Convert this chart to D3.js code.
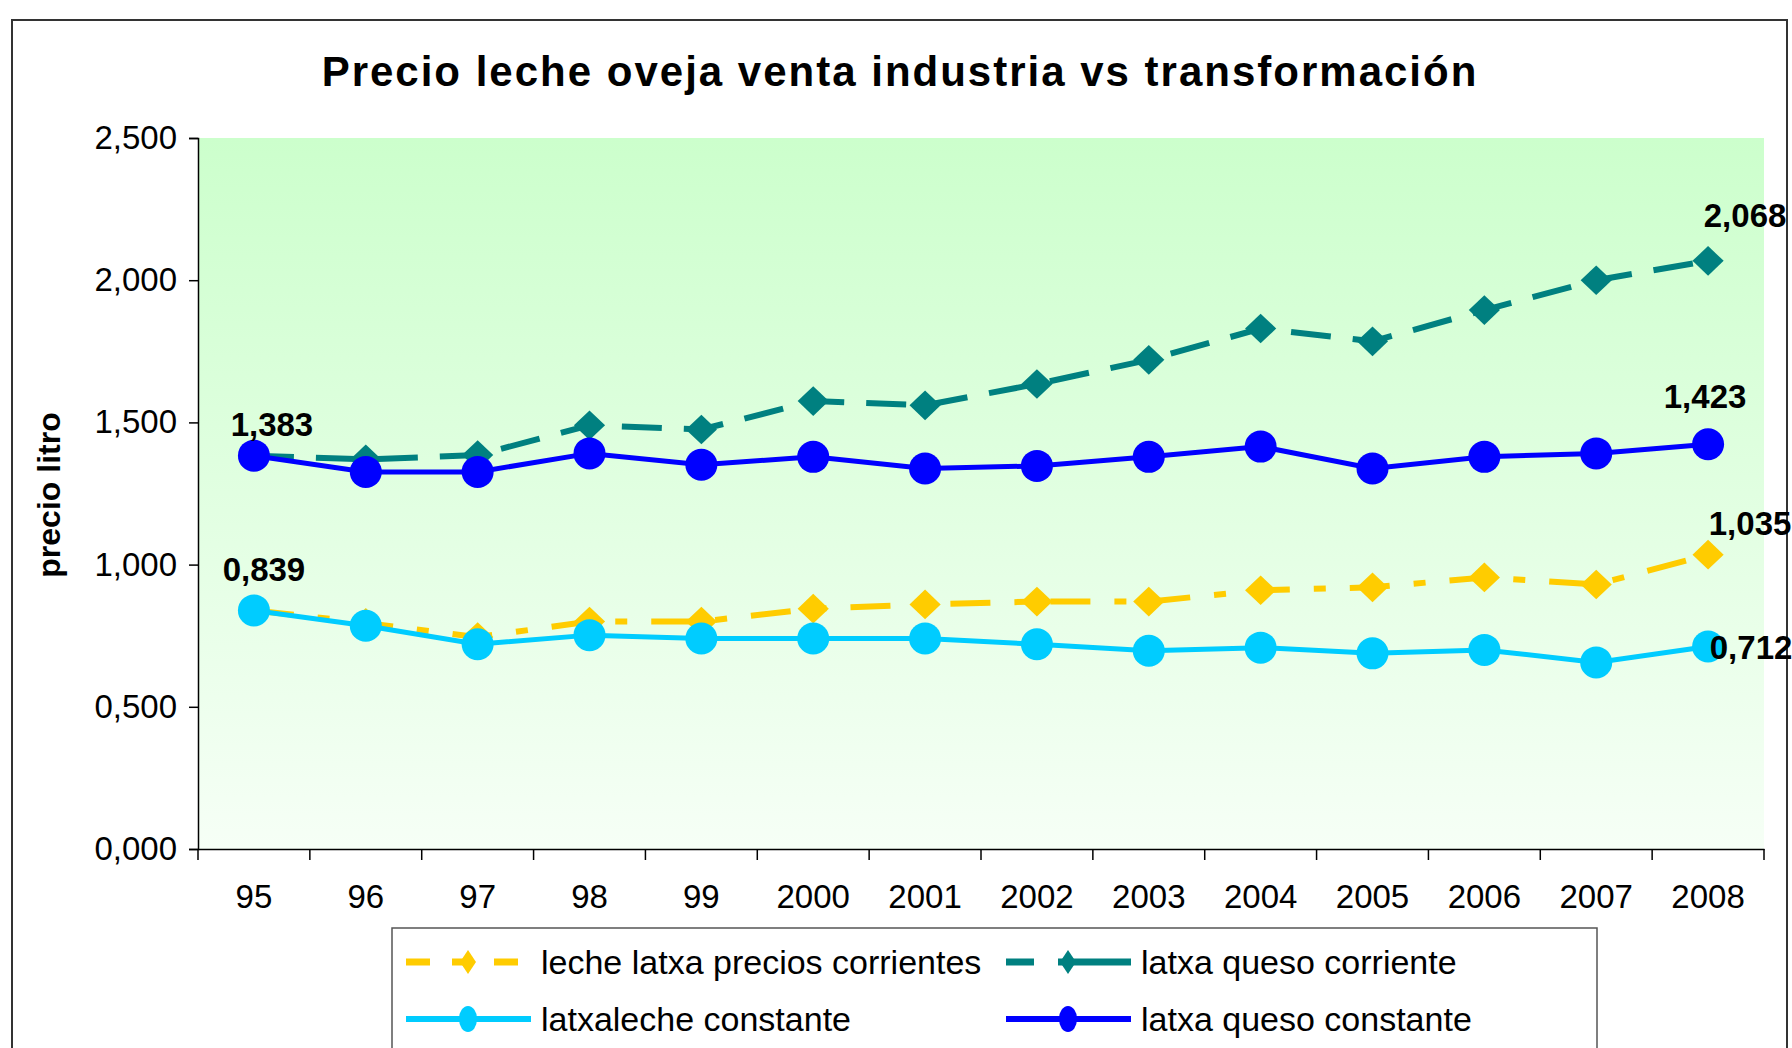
<!DOCTYPE html>
<html><head><meta charset="utf-8">
<script src="https://cdn.jsdelivr.net/npm/d3@7"></script>
<style>body{margin:0;background:#fff}svg{display:block;font-family:"Liberation Sans",Arial,sans-serif}</style>
</head><body><svg id="c" width="1792" height="1048"></svg>
<script>
const categories = ["95","96","97","98","99","2000","2001","2002","2003","2004","2005","2006","2007","2008"];
const lecheCorrientes = [0.839,0.795,0.745,0.800,0.800,0.845,0.860,0.870,0.870,0.910,0.920,0.955,0.930,1.035];
const quesoCorriente = [1.383,1.370,1.385,1.490,1.475,1.575,1.560,1.635,1.720,1.830,1.785,1.895,2.000,2.068];
const lecheConstante = [0.839,0.785,0.720,0.752,0.740,0.740,0.740,0.720,0.697,0.708,0.688,0.700,0.656,0.712];
const quesoConstante = [1.383,1.326,1.326,1.391,1.351,1.379,1.338,1.347,1.379,1.415,1.338,1.379,1.391,1.423];
const yTicks = [0,0.5,1,1.5,2,2.5];
const seriesNames = ["leche latxa precios corrientes","latxa queso corriente","latxaleche constante","latxa queso constante"];

const svg = d3.select("#c");
const L=198, R=1764, T=138, B=849;
const x = d3.scaleBand().domain(categories).range([L,R]);
const y = d3.scaleLinear().domain([0,2.5]).range([B,T]);
const fmt = v => d3.format(".3f")(v).replace(".",",");

svg.append("rect").attr("x",12).attr("y",20).attr("width",1775).attr("height",1060)
  .attr("fill","#fff").attr("stroke","#333").attr("stroke-width",2);

const defs = svg.append("defs");
const g = defs.append("linearGradient").attr("id","bg").attr("x1",0).attr("y1",0).attr("x2",0).attr("y2",1);
g.append("stop").attr("offset","0%").attr("stop-color","#ccffcc");
g.append("stop").attr("offset","100%").attr("stop-color","#f6fff6");
svg.append("rect").attr("x",L).attr("y",T).attr("width",R-L).attr("height",B-T).attr("fill","url(#bg)");

svg.append("text").attr("x",900).attr("y",86).attr("text-anchor","middle")
  .attr("font-size",42).attr("font-weight","bold").attr("letter-spacing",2)
  .text("Precio leche oveja venta industria vs transformación");

const ya = svg.append("g").attr("transform",`translate(${L},0)`)
  .call(d3.axisLeft(y).tickValues(yTicks).tickFormat(fmt).tickSize(9).tickPadding(12));
ya.select(".domain").attr("stroke","#000").attr("stroke-width",1.5);
ya.selectAll(".tick line").attr("stroke","#000").attr("stroke-width",1.5);
ya.selectAll("text").attr("font-size",33).attr("fill","#000").attr("font-family","Liberation Sans, Arial");

const xa = svg.append("g").attr("transform",`translate(0,${B})`)
  .call(d3.axisBottom(x).tickSize(0).tickPadding(36));
xa.select(".domain").attr("stroke","#000").attr("stroke-width",1.5);
xa.selectAll("text").attr("font-size",33).attr("fill","#000");
const bounds = categories.map(c=>x(c)).concat([R]);
svg.append("g").selectAll("line").data(bounds).join("line")
  .attr("x1",d=>d).attr("x2",d=>d).attr("y1",B).attr("y2",B+11).attr("stroke","#000").attr("stroke-width",1.5);

svg.append("text").attr("transform","translate(52,495) rotate(-90)").attr("text-anchor","middle")
  .attr("dominant-baseline","middle").attr("font-size",32).attr("font-weight","bold").text("precio litro");

const cx = c => x(c) + x.bandwidth()/2;
const line = d3.line().x((d,i)=>cx(categories[i])).y(d=>y(d));
const series = [
  {name:seriesNames[0], data:lecheCorrientes, color:"#ffcc00", w:6, dash:"40,24,12,24", mk:"diamond"},
  {name:seriesNames[1], data:quesoCorriente, color:"#008080", w:6, dash:"40,22", mk:"diamond"},
  {name:seriesNames[2], data:lecheConstante, color:"#00ccff", w:5, dash:null, mk:"circle"},
  {name:seriesNames[3], data:quesoConstante, color:"#0000ff", w:5, dash:null, mk:"circle"}
];
function drawMarker(sel, s, px, py){
  if(s.mk==="circle"){
    sel.append("circle").attr("cx",px).attr("cy",py).attr("r",16).attr("fill",s.color);
  } else {
    sel.append("path").attr("d",d3.symbol().type(d3.symbolDiamond2).size(620)())
      .attr("transform",`translate(${px},${py}) scale(1,0.95)`).attr("fill",s.color);
  }
}
const plot = svg.append("g");
series.forEach(s=>{
  plot.append("path").datum(s.data).attr("d",line).attr("fill","none").attr("stroke",s.color)
    .attr("stroke-width",s.w).attr("stroke-dasharray",s.dash);
});
series.forEach(s=>{
  s.data.forEach((v,i)=>drawMarker(plot,s,cx(categories[i]),y(v)));
});

const labels = [
  {s:3,i:0,dx:18,dy:-31},{s:2,i:0,dx:10,dy:-41},
  {s:1,i:13,dx:37,dy:-45},{s:3,i:13,dx:-3,dy:-48},
  {s:0,i:13,dx:42,dy:-31},{s:2,i:13,dx:43,dy:1}
];
labels.forEach(l=>{
  const s=series[l.s], v=s.data[l.i];
  svg.append("text").attr("x",cx(categories[l.i])+l.dx).attr("y",y(v)+l.dy)
    .attr("text-anchor","middle").attr("dominant-baseline","central")
    .attr("font-size",33).attr("font-weight","bold").text(fmt(v));
});

svg.append("rect").attr("x",392).attr("y",928).attr("width",1205).attr("height",160)
  .attr("fill","#fff").attr("stroke","#555").attr("stroke-width",1.5);
const legPos = [[406,962],[1006,962],[406,1019],[1006,1019]];
series.forEach((s,k)=>{
  const [lx,ly]=legPos[k];
  const lg = svg.append("g");
  lg.append("line").attr("x1",lx).attr("x2",lx+125).attr("y1",ly).attr("y2",ly)
    .attr("stroke",s.color).attr("stroke-width",s.w+1).attr("stroke-dasharray", k===0?"24,22,12,30":(k===1?"28,24,80":null));
  if(s.mk==="circle"){
    lg.append("ellipse").attr("cx",lx+62).attr("cy",ly).attr("rx",9).attr("ry",13).attr("fill",s.color);
  } else {
    lg.append("path").attr("d",d3.symbol().type(d3.symbolSquare).size(200)())
      .attr("transform",`translate(${lx+62},${ly}) scale(0.8,1.2) rotate(45)`).attr("fill",s.color);
  }
  lg.append("text").attr("x",k%2===0?541:1141).attr("y",ly).attr("dominant-baseline","central")
    .attr("font-size",34).text(s.name);
});
</script></body></html>
